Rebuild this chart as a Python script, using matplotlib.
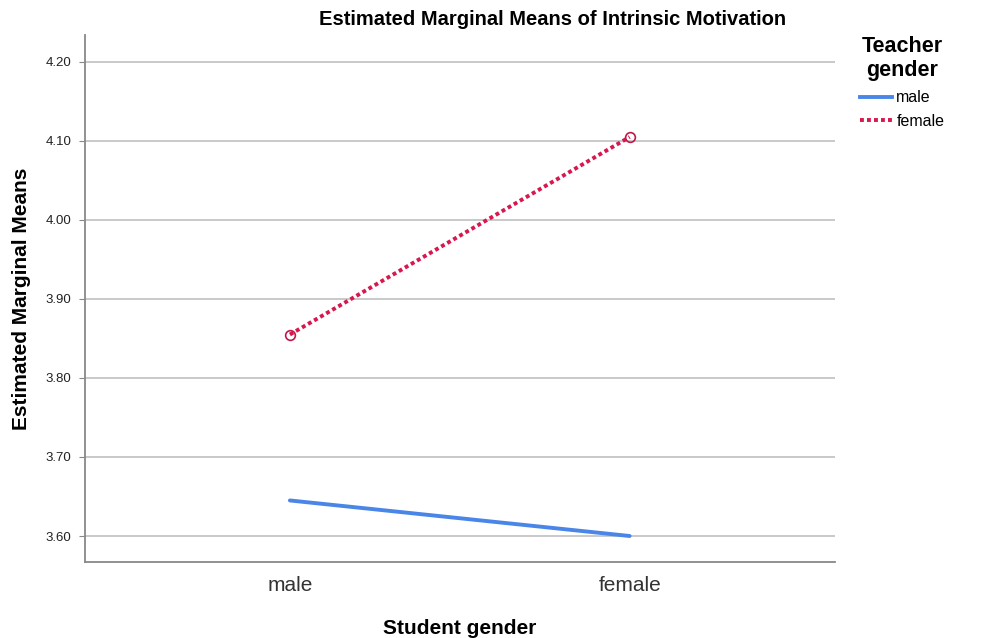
import matplotlib.pyplot as plt
from matplotlib.lines import Line2D

plt.rcParams['font.family'] = ['Liberation Sans', 'DejaVu Sans']

# 数据
student_gender = ['male', 'female']
teacher_male = [3.645, 3.600]
teacher_female = [3.855, 4.105]
y_ticks = [3.60, 3.70, 3.80, 3.90, 4.00, 4.10, 4.20]

blue = '#4a86e8'
red = '#d8174e'

fig = plt.figure(figsize=(9.98, 6.38), dpi=100)
ax = fig.add_axes([0.0852, 0.119, 0.751, 0.826])

x = list(range(len(student_gender)))
ax.plot(x, teacher_male, color=blue, linewidth=2.8, solid_capstyle='round')
ax.plot(x, teacher_female, color=red, linewidth=2.8, linestyle=(0, (1, 0.8)),
        marker='o', markersize=7, markerfacecolor='none', markeredgecolor='#c01848',
        markeredgewidth=1.2)

ax.set_xlim(-0.603, 1.603)
ax.set_ylim(3.567, 4.234)
ax.set_yticks(y_ticks)
ax.set_yticklabels([f'{v:.2f}' for v in y_ticks], fontsize=9.5, color='#222222')
ax.set_xticks(x)
ax.set_xticklabels(student_gender, fontsize=15, color='#333333')
ax.tick_params(axis='x', length=0, pad=10)
ax.tick_params(axis='y', length=4, color='#888888', pad=6)

ax.grid(axis='y', color='#bbbbbb', linewidth=1.1)
ax.set_axisbelow(True)
for s in ['top', 'right']:
    ax.spines[s].set_visible(False)
for s in ['left', 'bottom']:
    ax.spines[s].set_color('#888888')
    ax.spines[s].set_linewidth(1.3)

fig.text(0.554, 0.970, 'Estimated Marginal Means of Intrinsic Motivation', fontsize=14.5,
         fontweight='bold', ha='center', va='center')
ax.set_xlabel('Student gender', fontsize=15, fontweight='bold', labelpad=17)
ax.set_ylabel('Estimated Marginal Means', fontsize=15, fontweight='bold', labelpad=10)

handles = [Line2D([], [], color=blue, linewidth=2.8),
           Line2D([], [], color=red, linewidth=2.8, linestyle=(0, (1, 0.8)))]
leg = ax.legend(handles, ['male', 'female'], title='Teacher\ngender', loc='upper left',
                bbox_to_anchor=(1.025, 1.01), frameon=False, fontsize=11.5,
                handlelength=2.0, handletextpad=0.3, borderaxespad=0, labelspacing=0.55)
leg.get_title().set_fontweight('bold')
leg.get_title().set_fontsize(15.5)
leg.get_title().set_multialignment('center')
leg._legend_box.align = 'center'

fig.savefig('out.png', dpi=100)
